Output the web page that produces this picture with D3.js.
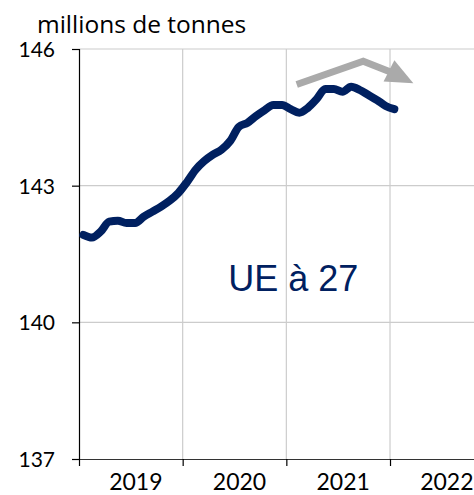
<!DOCTYPE html>
<html>
<head>
<meta charset="utf-8">
<script src="https://cdn.jsdelivr.net/npm/d3@7"></script>
<style>
  body { margin: 0; background: #fff; }
  svg { display: block; }
  .tick text { font-family: Lato, "Open Sans", sans-serif; fill: #000; }
</style>
</head>
<body>
<script>
// monthly values, Jan 2019 -> Jan 2022 (millions de tonnes)
var years = ["2019", "2020", "2021", "2022"];
var values = [
  141.92, 141.86, 141.99, 142.21, 142.23, 142.18, 142.18, 142.32, 142.43, 142.54, 142.67, 142.84,
  143.08, 143.35, 143.54, 143.68, 143.79, 143.98, 144.29, 144.38, 144.53, 144.66, 144.77, 144.77,
  144.68, 144.60, 144.71, 144.90, 145.12, 145.12, 145.06, 145.17, 145.10, 144.99, 144.88, 144.75,
  144.68
];
var yTicks = [137, 140, 143, 146];
// trend arrow, in (month, value) units
var arrowPts = [[25.2, 145.22], [32.9, 145.73], [36.5, 145.46]];
var arrowTip = [38.7, 145.25];

var width = 474, height = 495;
var margin = {top: 49, left: 79, bottom: 36};

var x = d3.scaleLinear().domain([0, 48]).range([margin.left, margin.left + 4 * 103.67]);
var y = d3.scaleLinear().domain([137, 146]).range([height - margin.bottom, margin.top]);

var svg = d3.select("body").append("svg")
    .attr("width", width)
    .attr("height", height);

// gridlines
svg.append("g").selectAll("line")
    .data(yTicks.slice(1))
  .enter().append("line")
    .attr("x1", x(0)).attr("x2", width)
    .attr("y1", function(d) { return y(d); })
    .attr("y2", function(d) { return y(d); })
    .attr("stroke", "#cccccc").attr("stroke-width", 1.2);

svg.append("g").selectAll("line")
    .data([12, 24, 36])
  .enter().append("line")
    .attr("x1", function(d) { return x(d); })
    .attr("x2", function(d) { return x(d); })
    .attr("y1", y(146)).attr("y2", y(137))
    .attr("stroke", "#cccccc").attr("stroke-width", 1.2);

// y axis
var yAxis = svg.append("g")
    .attr("transform", "translate(" + x(0) + ",0)")
    .call(d3.axisLeft(y).tickValues(yTicks).tickSize(7).tickPadding(17));
yAxis.select(".domain").attr("stroke", "#000").attr("stroke-width", 1.2);
yAxis.selectAll(".tick line").attr("stroke", "#000").attr("stroke-width", 1.2);
yAxis.selectAll(".tick text").style("font-size", "21px").attr("dy", "0.36em");

// x axis
var xAxis = svg.append("g")
    .attr("transform", "translate(0," + y(137) + ")")
    .call(d3.axisBottom(x).tickValues([0, 12, 24, 36]).tickSize(7).tickFormat(""));
xAxis.select(".domain").attr("d", "M" + x(0) + ",0.5H" + width).attr("stroke", "#333").attr("stroke-width", 1.2);
xAxis.selectAll(".tick line").attr("stroke", "#000").attr("stroke-width", 1.2);

xAxis.selectAll(".year")
    .data(years)
  .enter().append("text")
    .attr("class", "year")
    .attr("x", function(d, i) { return x(i * 12 + 6) + 5; })
    .attr("y", 31)
    .attr("text-anchor", "middle")
    .style("font-family", "Lato, 'Open Sans', sans-serif")
    .style("font-size", "23px")
    .attr("fill", "#000")
    .text(function(d) { return d; });

// unit title
svg.append("text")
    .attr("x", 37).attr("y", 33)
    .style("font-family", "'Open Sans', sans-serif")
    .style("font-size", "24.5px")
    .text("millions de tonnes");

// trend arrow
svg.append("path")
    .attr("d", d3.line().x(function(d) { return x(d[0]); }).y(function(d) { return y(d[1]); })(arrowPts))
    .attr("fill", "none")
    .attr("stroke", "#aaaaaa")
    .attr("stroke-width", 7);

var p2 = arrowPts[2];
var ax = x(p2[0]), ay = y(p2[1]);
var tx = x(arrowTip[0]), ty = y(arrowTip[1]);
var dx = tx - ax, dy = ty - ay, len = Math.sqrt(dx * dx + dy * dy);
var nx = -dy / len, ny = dx / len, hw = 12, back = 6;
var bx = ax - dx / len * back, by = ay - dy / len * back;
svg.append("path")
    .attr("d", "M" + tx + "," + ty +
      "L" + (bx + nx * hw) + "," + (by + ny * hw) +
      "L" + (bx - nx * hw) + "," + (by - ny * hw) + "Z")
    .attr("fill", "#aaaaaa");

// series
svg.append("path")
    .datum(values)
    .attr("d", d3.line()
      .x(function(d, i) { return x(i + 0.5); })
      .y(function(d) { return y(d); })
      .curve(d3.curveMonotoneX))
    .attr("fill", "none")
    .attr("stroke", "#002060")
    .attr("stroke-width", 8)
    .attr("stroke-linecap", "round")
    .attr("stroke-linejoin", "round");

svg.append("text")
    .attr("x", x(24.8)).attr("y", 291)
    .attr("text-anchor", "middle")
    .style("font-family", "'Liberation Sans', Arial, sans-serif")
    .style("font-size", "36px")
    .attr("fill", "#002060")
    .text("UE à 27");
</script>
</body>
</html>
